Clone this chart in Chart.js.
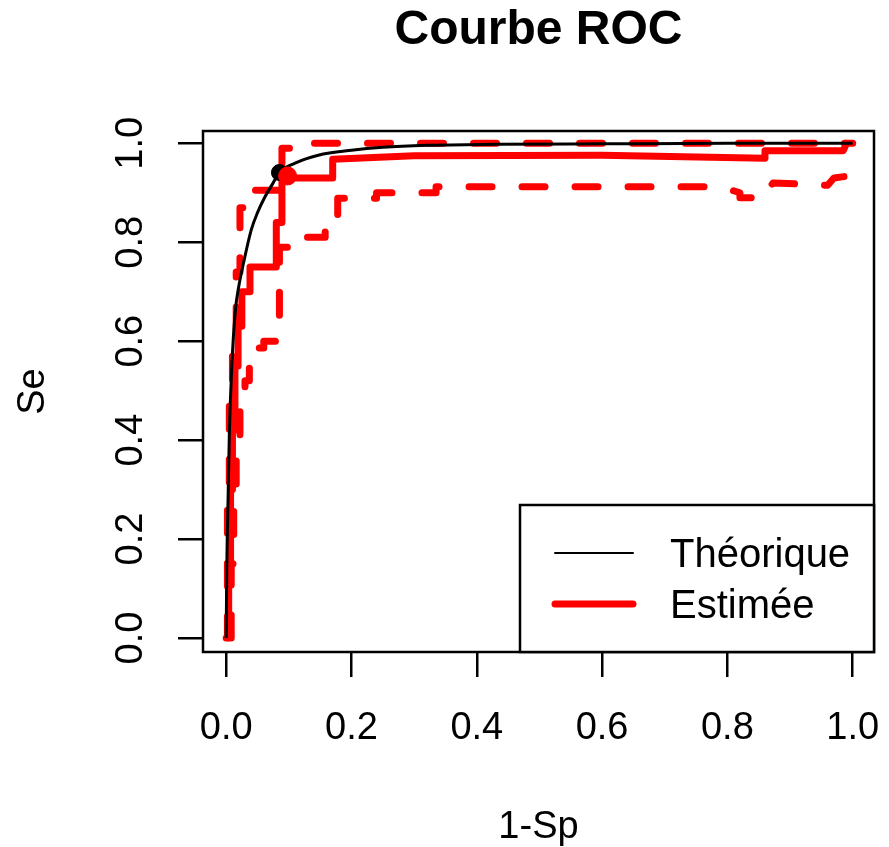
<!DOCTYPE html>
<html lang="fr">
<head>
<meta charset="UTF-8" />
<title>Courbe ROC</title>
<script src="https://cdn.jsdelivr.net/npm/chart.js"></script>
<style>
  html, body { margin: 0; padding: 0; background: #fff; }
  #wrap { width: 889px; height: 847px; }
</style>
</head>
<body>
<div id="wrap"><canvas id="roc"></canvas></div>
<script>
  // axis ticks
  const xTicks = [0, 0.2, 0.4, 0.6, 0.8, 1.0];
  const yTicks = [0, 0.2, 0.4, 0.6, 0.8, 1.0];

  // theoretical ROC curve
  const theoX = [0, 0.001, 0.003, 0.005, 0.009, 0.0145, 0.02, 0.028, 0.04, 0.05, 0.062, 0.075, 0.085, 0.11, 0.147, 0.2, 0.25, 0.32, 0.43, 0.6, 0.8, 1.0];
  const theoY = [0, 0.144, 0.28, 0.41, 0.55, 0.66, 0.71, 0.76, 0.825, 0.86, 0.892, 0.92, 0.941, 0.96, 0.976, 0.986, 0.992, 0.996, 0.998, 0.999, 1.0, 1.0];

  // estimated ROC curve (step corners)
  const estX = [0.004, 0.004, 0.007, 0.007, 0.01, 0.01, 0.014, 0.014, 0.019, 0.019, 0.025, 0.025, 0.038, 0.038, 0.08, 0.08, 0.089, 0.089, 0.17, 0.17, 0.3, 0.6, 0.86, 0.86, 0.985, 0.99];
  const estY = [0, 0.12, 0.12, 0.3, 0.3, 0.42, 0.42, 0.55, 0.55, 0.63, 0.63, 0.7, 0.7, 0.75, 0.75, 0.84, 0.84, 0.93, 0.93, 0.968, 0.975, 0.976, 0.97, 0.985, 0.985, 1.0];

  // lower confidence band
  const lowX = [0.008, 0.008, 0.012, 0.012, 0.016, 0.016, 0.022, 0.022, 0.03, 0.03, 0.037, 0.037, 0.06, 0.06, 0.085, 0.085, 0.1, 0.1, 0.158, 0.158, 0.178, 0.178, 0.24, 0.24, 0.335, 0.335, 0.79, 0.82, 0.82, 0.86, 0.86, 0.873, 0.96, 0.97, 1.0];
  const lowY = [0, 0.15, 0.15, 0.28, 0.28, 0.38, 0.38, 0.49, 0.49, 0.52, 0.52, 0.586, 0.586, 0.6, 0.6, 0.79, 0.79, 0.81, 0.81, 0.835, 0.835, 0.889, 0.889, 0.9, 0.9, 0.912, 0.912, 0.9, 0.89, 0.89, 0.9, 0.92, 0.915, 0.93, 0.935];

  // upper confidence band
  const upX = [0, 0.002, 0.002, 0.005, 0.005, 0.01, 0.01, 0.016, 0.016, 0.022, 0.022, 0.035, 0.035, 0.089, 0.089, 0.125, 0.125, 1.0];
  const upY = [0, 0, 0.3, 0.3, 0.5, 0.5, 0.62, 0.62, 0.74, 0.74, 0.87, 0.87, 0.905, 0.905, 0.99, 0.99, 1.0, 1.0];

  // optimal thresholds
  const theoPoint = [0.085, 0.941];
  const estPoint = [0.098, 0.934];

  const legendLabels = ['Théorique', 'Estimée'];

  const FONT = "'Liberation Sans', Arial, sans-serif";
  const toPts = (xs, ys) => xs.map((x, i) => ({ x, y: ys[i] }));

  // box round the plot region
  const frame = {
    id: 'frame',
    afterDatasetsDraw(chart) {
      const { ctx, chartArea: a } = chart;
      ctx.save();
      ctx.strokeStyle = '#000';
      ctx.lineWidth = 2.5;
      ctx.strokeRect(a.left, a.top, a.right - a.left, a.bottom - a.top);
      ctx.restore();
    }
  };

  // R-style legend, bottom right
  const rocLegend = {
    id: 'rocLegend',
    afterDraw(chart) {
      const { ctx, chartArea: a } = chart;
      const w = 354, h = 147;
      const x0 = a.right - w, y0 = a.bottom - h;
      const styles = [
        { color: '#000', width: 2 },
        { color: '#ff0000', width: 7 }
      ];
      ctx.save();
      ctx.fillStyle = '#fff';
      ctx.fillRect(x0, y0, w, h);
      ctx.strokeStyle = '#000';
      ctx.lineWidth = 2.5;
      ctx.strokeRect(x0, y0, w, h);
      legendLabels.forEach((label, i) => {
        const y = y0 + 48 + i * 51;
        ctx.beginPath();
        ctx.moveTo(x0 + 35, y);
        ctx.lineTo(x0 + 113, y);
        ctx.strokeStyle = styles[i].color;
        ctx.lineWidth = styles[i].width;
        ctx.lineCap = 'round';
        ctx.stroke();
        ctx.fillStyle = '#000';
        ctx.font = '40px ' + FONT;
        ctx.textBaseline = 'middle';
        ctx.fillText(label, x0 + 150, y + 3);
      });
      ctx.restore();
    }
  };

  const redLine = {
    showLine: true,
    borderColor: '#ff0000',
    borderWidth: 7,
    borderCapStyle: 'round',
    borderJoinStyle: 'round',
    pointRadius: 0,
    tension: 0
  };

  new Chart(document.getElementById('roc'), {
    type: 'scatter',
    data: {
      datasets: [
        {
          label: 'seuil estimé',
          data: [{ x: estPoint[0], y: estPoint[1] }],
          pointRadius: 9,
          pointBackgroundColor: '#ff0000',
          pointBorderColor: '#ff0000'
        },
        {
          label: 'seuil théorique',
          data: [{ x: theoPoint[0], y: theoPoint[1] }],
          pointRadius: 8,
          pointBackgroundColor: '#000',
          pointBorderColor: '#000'
        },
        {
          label: 'Théorique',
          data: toPts(theoX, theoY),
          showLine: true,
          borderColor: '#000',
          borderWidth: 3,
          pointRadius: 0,
          cubicInterpolationMode: 'monotone'
        },
        Object.assign({ label: 'Estimée', data: toPts(estX, estY) }, redLine),
        Object.assign({ label: 'IC bas', data: toPts(lowX, lowY), borderDash: [23, 30] }, redLine),
        Object.assign({ label: 'IC haut', data: toPts(upX, upY), borderDash: [23, 30] }, redLine)
      ]
    },
    options: {
      responsive: true,
      maintainAspectRatio: false,
      animation: false,
      layout: { padding: { top: 0, left: 0, right: 15, bottom: 0 } },
      plugins: {
        legend: { display: false },
        tooltip: { enabled: false },
        title: {
          display: true,
          fullSize: false,
          text: 'Courbe ROC',
          color: '#000',
          font: { family: FONT, size: 48, weight: 'bold', lineHeight: 1.2 },
          padding: { top: 2, bottom: 71.4 }
        }
      },
      scales: {
        x: {
          type: 'linear',
          min: -0.037,
          max: 1.034,
          afterFit: s => { s.height = 195; s.paddingLeft = 0; s.paddingRight = 0; },
          afterBuildTicks: s => { s.ticks = xTicks.map(v => ({ value: v })); },
          border: { display: false },
          grid: { drawOnChartArea: false, drawTicks: true, tickLength: 25, color: '#000', lineWidth: 2.5 },
          ticks: {
            color: '#000',
            padding: 29,
            maxRotation: 0,
            autoSkip: false,
            font: { family: FONT, size: 38, lineHeight: 1.2 },
            callback: v => v.toFixed(1)
          },
          title: {
            display: true,
            text: '1-Sp',
            color: '#000',
            font: { family: FONT, size: 38, lineHeight: 1 },
            padding: { top: 0, bottom: 0 }
          }
        },
        y: {
          type: 'linear',
          min: -0.0283,
          max: 1.0249,
          afterFit: s => { s.width = 203; s.paddingTop = 0; s.paddingBottom = 0; },
          afterBuildTicks: s => { s.ticks = yTicks.map(v => ({ value: v })); },
          border: { display: false },
          grid: { drawOnChartArea: false, drawTicks: true, tickLength: 25, color: '#000', lineWidth: 2.5 },
          ticks: {
            color: '#000',
            padding: 20,
            minRotation: 90,
            maxRotation: 90,
            crossAlign: 'center',
            autoSkip: false,
            font: { family: FONT, size: 38, lineHeight: 1.2 },
            callback: v => v.toFixed(1)
          },
          title: {
            display: true,
            text: 'Se',
            color: '#000',
            font: { family: FONT, size: 38, lineHeight: 1 },
            padding: { top: 15, bottom: 0 }
          }
        }
      }
    },
    plugins: [frame, rocLegend]
  });
</script>
</body>
</html>
